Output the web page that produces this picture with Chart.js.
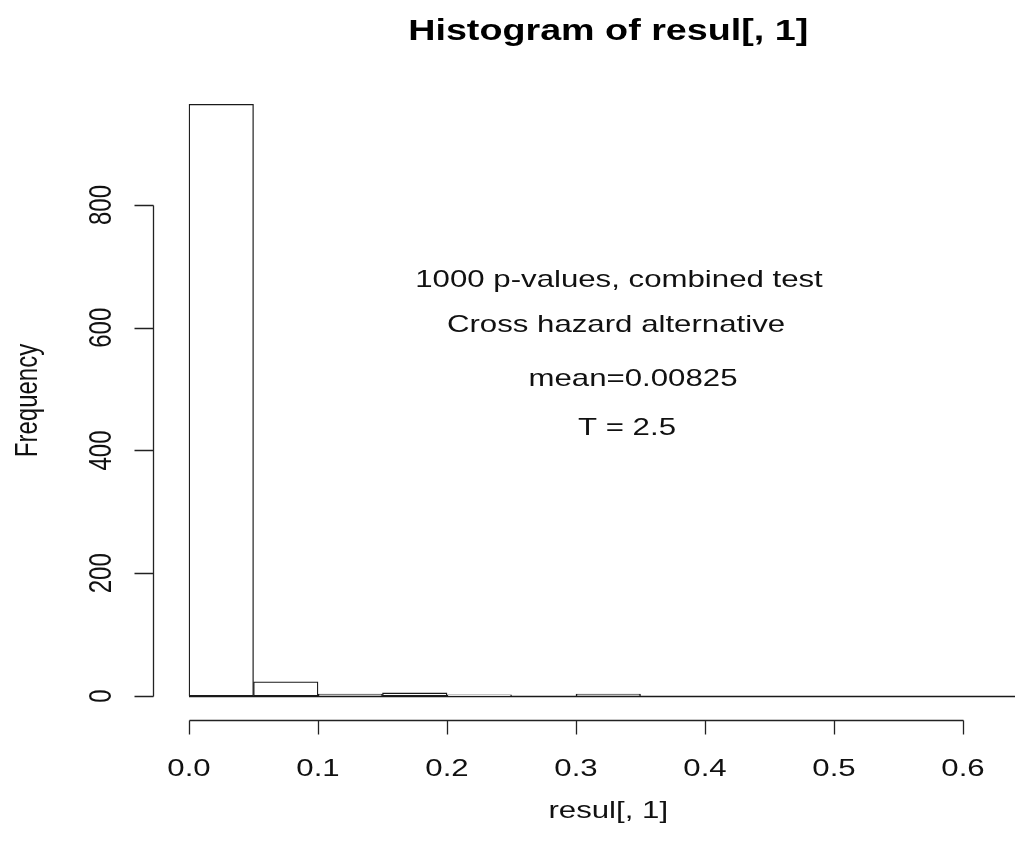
<!DOCTYPE html>
<html>
<head>
<meta charset="utf-8">
<script src="https://cdn.jsdelivr.net/npm/chart.js@4/dist/chart.umd.min.js"></script>
<style>
html,body{margin:0;padding:0;background:#fff;}
#wrap{width:1015px;height:843px;}
</style>
</head>
<body>
<div id="wrap"><canvas id="c" width="1015" height="843"></canvas></div>
<script>
// ---- data ----
const binStarts = [0.00,0.05,0.10,0.15,0.20,0.25,0.30,0.35,0.40,0.45,0.50,0.55,0.60];
const binWidth = 0.05;
const counts = [964,23,3,5,2,0,3,0,0,0,0,0,0];
const xTicks = [0.0,0.1,0.2,0.3,0.4,0.5,0.6];
const xTickLabels = ["0.0","0.1","0.2","0.3","0.4","0.5","0.6"];
const yTicks = [0,200,400,600,800];
const yTickLabels = ["0","200","400","600","800"];
const titleText = "Histogram of resul[, 1]";
const xLabel = "resul[, 1]";
const yLabel = "Frequency";
const notes = ["1000 p-values, combined test","Cross hazard alternative","mean=0.00825","T = 2.5"];

const FONT = '"Liberation Sans", Arial, sans-serif';
const SX = 1.3; // horizontal stretch of the reference rendering

function txt(ctx, s, x, y, font, rot) {
  ctx.save();
  ctx.translate(x, y);
  ctx.scale(SX, 1);
  if (rot) ctx.rotate(-Math.PI / 2);
  ctx.font = font;
  ctx.textAlign = 'center';
  ctx.textBaseline = 'alphabetic';
  ctx.fillText(s, 0, 0);
  ctx.restore();
}

const rAxes = {
  id: 'rAxes',
  beforeDatasetsDraw(chart) {
    const ctx = chart.ctx, xs = chart.scales.x, ys = chart.scales.y;
    ctx.save();
    ctx.strokeStyle = '#1a1a1a';
    ctx.lineWidth = 1.3;
    const y0 = Math.round(ys.getPixelForValue(0)) + 0.5;
    ctx.beginPath();
    ctx.moveTo(xs.getPixelForValue(binStarts[0]), y0);
    ctx.lineTo(xs.getPixelForValue(binStarts[binStarts.length-1] + binWidth), y0);
    ctx.stroke();
    ctx.restore();
  },
  afterDraw(chart) {
    const ctx = chart.ctx, xs = chart.scales.x, ys = chart.scales.y, ca = chart.chartArea;
    const plotCenter = (xs.getPixelForValue(-0.0264) + xs.getPixelForValue(0.65 + 0.0264)) / 2;
    ctx.save();
    ctx.strokeStyle = '#222';
    ctx.fillStyle = '#111';
    ctx.lineWidth = 1.3;
    // x axis
    const ax = Math.round(ca.bottom) + 0.5;
    ctx.beginPath();
    ctx.moveTo(Math.round(xs.getPixelForValue(xTicks[0])) + 0.5, ax);
    ctx.lineTo(Math.round(xs.getPixelForValue(xTicks[xTicks.length-1])) + 0.5, ax);
    xTicks.forEach(v => {
      const px = Math.round(xs.getPixelForValue(v)) + 0.5;
      ctx.moveTo(px, ax); ctx.lineTo(px, ax + 14);
    });
    ctx.stroke();
    xTicks.forEach((v, i) => {
      txt(ctx, xTickLabels[i], xs.getPixelForValue(v), 776, '24px ' + FONT, false);
    });
    // y axis
    const ay = Math.round(ca.left) - 1.5;
    ctx.beginPath();
    ctx.moveTo(ay, Math.round(ys.getPixelForValue(yTicks[0])) + 0.5);
    ctx.lineTo(ay, Math.round(ys.getPixelForValue(yTicks[yTicks.length-1])) + 0.5);
    yTicks.forEach(v => {
      const py = Math.round(ys.getPixelForValue(v)) + 0.5;
      ctx.moveTo(ay, py); ctx.lineTo(ay - 19, py);
    });
    ctx.stroke();
    yTicks.forEach((v, i) => {
      txt(ctx, yTickLabels[i], 111, ys.getPixelForValue(v), '24px ' + FONT, true);
    });
    // axis titles
    txt(ctx, xLabel, plotCenter, 818, '24px ' + FONT, false);
    txt(ctx, yLabel, 37, (ca.top + ca.bottom) / 2, '24px ' + FONT, true);
    // main title
    ctx.fillStyle = '#000';
    txt(ctx, titleText, plotCenter, 40, 'bold 29px ' + FONT, false);
    // annotations
    ctx.fillStyle = '#111';
    const nx = [619, 616, 633, 627];
    const ny = [287, 332, 386, 435];
    notes.forEach((t, i) => txt(ctx, t, nx[i], ny[i], '24px ' + FONT, false));
    ctx.restore();
  }
};

new Chart(document.getElementById('c'), {
  type: 'bar',
  data: {
    datasets: [{
      data: binStarts.map((s, i) => ({x: s + binWidth / 2, y: counts[i]})),
      backgroundColor: '#ffffff',
      borderColor: '#1a1a1a',
      borderWidth: 1.3,
      borderSkipped: false,
      barPercentage: 1.0,
      categoryPercentage: 1.0
    }]
  },
  options: {
    responsive: false,
    animation: false,
    layout: {padding: {left: 155, top: 81, right: 0, bottom: 123}},
    plugins: {legend: {display: false}, title: {display: false}, tooltip: {enabled: false}},
    scales: {
      x: {type: 'linear', offset: false, min: -0.02636, max: 0.64031, display: false},
      y: {type: 'linear', min: -39.1, max: 1002.0, display: false}
    }
  },
  plugins: [rAxes]
});
</script>
</body>
</html>
